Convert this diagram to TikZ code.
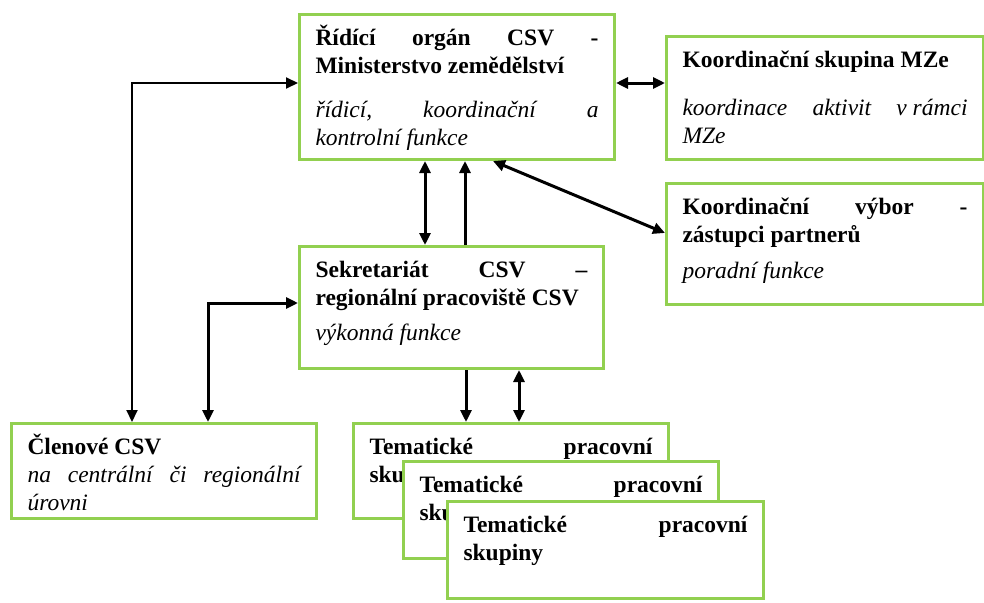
\documentclass[tikz,border=0pt]{standalone}
\usepackage{fontspec}
\setmainfont{Liberation Serif}
\usetikzlibrary{arrows.meta}
\definecolor{boxgreen}{RGB}{146,208,80}
\begin{document}
\begin{tikzpicture}[x=1pt,y=-1pt,
    box/.style 2 args={draw=boxgreen, line width=3pt, fill=white, anchor=north west,
      inner xsep=16pt, inner ysep=11pt, font=\fontsize{23.5}{28}\selectfont,
      execute at begin node={\begin{minipage}[t][#2][t]{#1}\strut},
      execute at end node={\end{minipage}}},
    link/.style={line width=3pt, >={Triangle[length=12pt,width=11pt]}},
    thinlink/.style={link, line width=2pt}]
      \useasboundingbox (0,0) rectangle (984,602);

      \node[box={283pt}{123pt}] (ridici) at (298,13) {\textbf{Řídící\hfill orgán\hfill CSV\hfill -\\Ministerstvo zemědělství}\\[16pt]\textit{řídicí,\hfill koordinační\hfill a\\kontrolní funkce}};
      \node[box={285pt}{101pt}] (skupina) at (665,35) {\textbf{Koordinační skupina MZe}\\[20pt]\textit{koordinace\hfill aktivit\hfill v rámci\\MZe}};
      \node[box={285pt}{99pt}] (vybor) at (665,182) {\textbf{Koordinační\hfill výbor\hfill -\\zástupci partnerů}\\[8pt]\textit{poradní funkce}};
      \node[box={272pt}{100pt}] (sekret) at (298,245) {\textbf{Sekretariát\hfill CSV\hfill –\\regionální pracoviště CSV}\\[7pt]\textit{výkonná funkce}};
      \node[box={273pt}{73pt}] (clenove) at (10,422) {\textbf{Členové CSV}\\\textit{na\hfill centrální\hfill či\hfill regionální\\úrovni}};

      % three stacked groups
      \node[box={283pt}{73pt}] (tem1) at (352,422) {\textbf{Tematické\hfill pracovní\\skupiny}};
      \node[box={283pt}{75pt}] (tem2) at (402,460) {\textbf{Tematické\hfill pracovní\\skupiny}};
      \node[box={284pt}{75pt}] (tem3) at (446,500) {\textbf{Tematické\hfill pracovní\\skupiny}};

      \draw[thinlink,<->] ([yshift=-70pt]ridici.north west) -| ([xshift=122pt]clenove.north west);
      \draw[link,<->] ([yshift=-58pt]sekret.north west) -| ([xshift=198pt]clenove.north west);
      \draw[link,<->] ([yshift=-70pt]ridici.north east) -- ([yshift=-48pt]skupina.north west);
      \draw[link,<->] ([xshift=127pt]ridici.south west) -- ([xshift=127pt]sekret.north west);
      \draw[link,->] ([xshift=167pt]sekret.north west) -- ([xshift=167pt]ridici.south west);
      \draw[link,<->] ([xshift=195pt]ridici.south west) -- ([yshift=-51pt]vybor.north west);
      \draw[link,->] ([xshift=168pt]sekret.south west) -- ([xshift=114pt]tem1.north west);
      \draw[link,<->] ([xshift=221pt]sekret.south west) -- ([xshift=167pt]tem1.north west);

\end{tikzpicture}
\end{document}
